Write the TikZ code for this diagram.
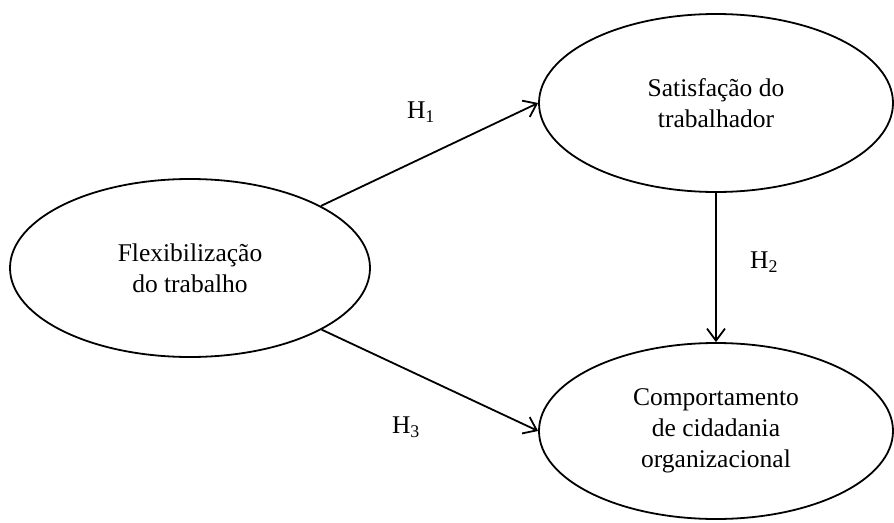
\documentclass[tikz,border=0pt]{standalone}
\usepackage{fontspec}
\setmainfont{Liberation Serif}
\usetikzlibrary{shapes.geometric,arrows.meta}
\tikzset{
  construct/.style={ellipse,draw,line width=1.8pt,align=center,inner sep=0pt,
    font=\fontsize{25.5}{31}\selectfont},
  path/.style={line width=1.8pt,-{Straight Barb[length=12pt,width=18pt,line width=1.8pt]}},
  hyp/.style={font=\fontsize{25.5}{31}\selectfont,inner sep=0pt}
}
\begin{document}
\begin{tikzpicture}[x=1pt,y=-1pt]
\useasboundingbox (0,0) rectangle (894,522);
\node[construct,minimum width=360pt,minimum height=178pt] (L) at (190,268) {Flexibilização\\do trabalho};
\node[construct,minimum width=354pt,minimum height=178pt] (T) at (716,103) {Satisfação do\\trabalhador};
\node[construct,minimum width=354pt,minimum height=176pt] (B) at (716,431) {Comportamento\\de cidadania\\organizacional};
\draw[path] (L) -- (T.west);
\draw[path] (L) -- (B.west);
\draw[path] (T.south) -- (B.north);
\node[hyp] (h1) at (421,112) {H\textsubscript{1}};
\node[hyp] (h2) at (764,262) {H\textsubscript{2}};
\node[hyp] (h3) at (406,427) {H\textsubscript{3}};
\end{tikzpicture}
\end{document}
